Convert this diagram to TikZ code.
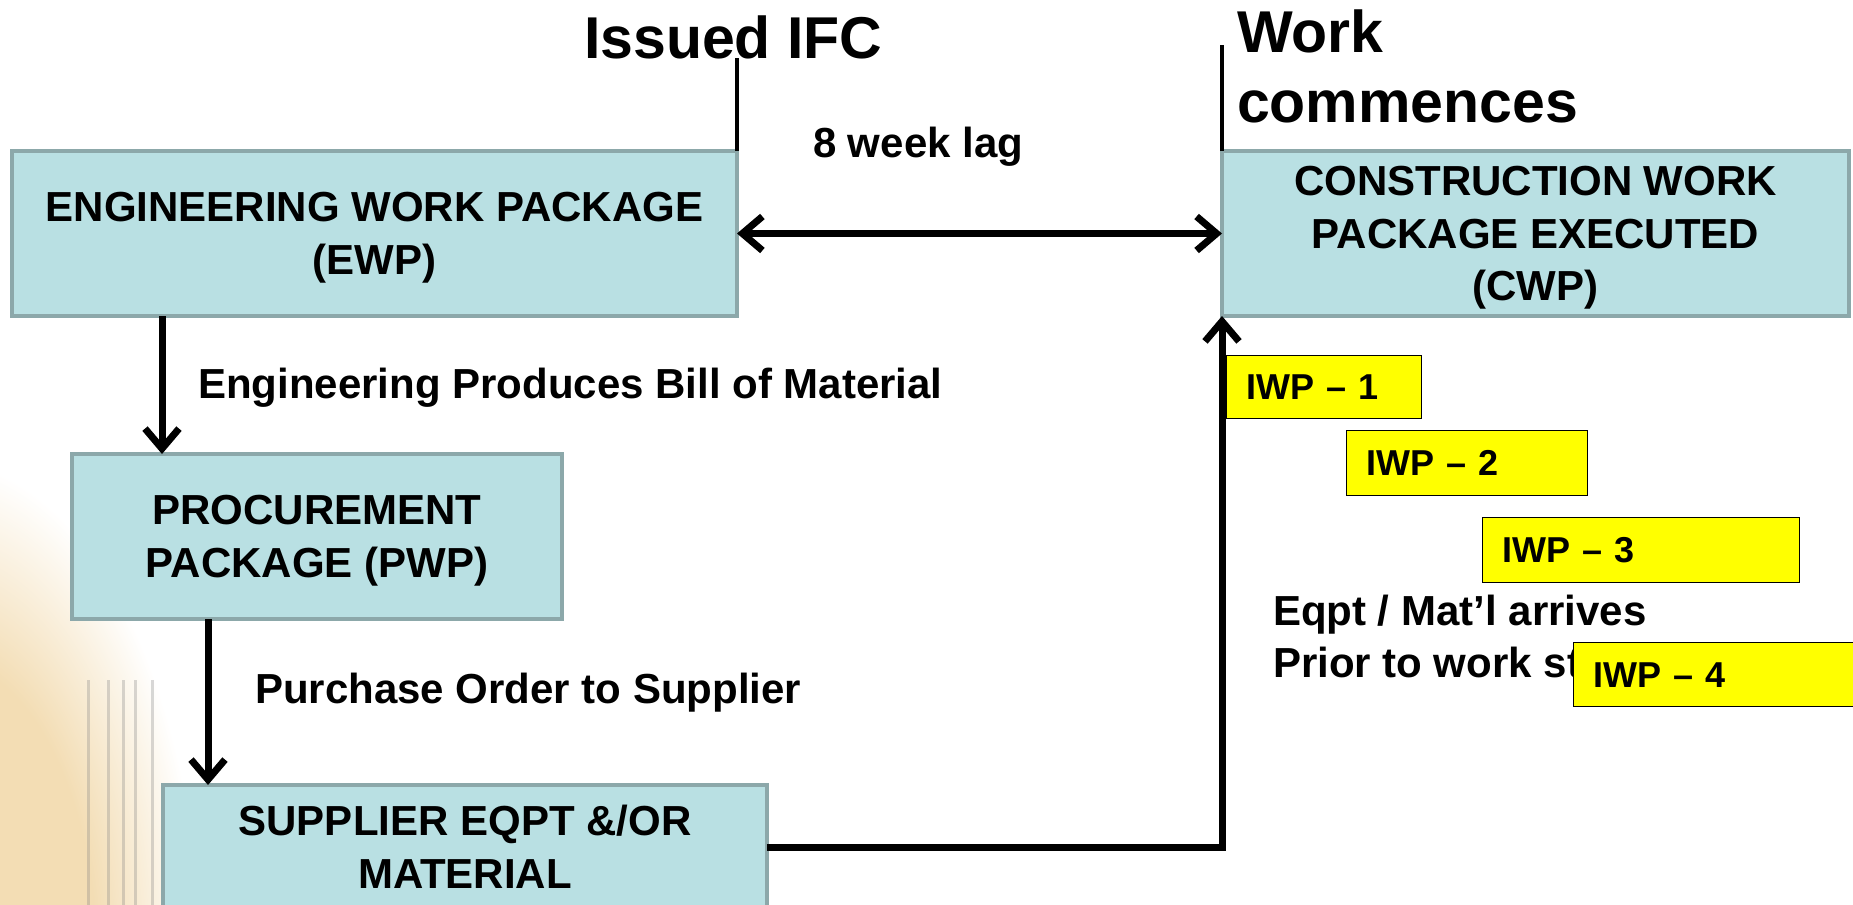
\documentclass[tikz,border=0pt]{standalone}
\usepackage{fontspec}
\setmainfont{Liberation Sans}
\usetikzlibrary{arrows.meta}
\definecolor{boxfill}{RGB}{185,224,227}
\definecolor{boxline}{RGB}{140,168,170}
\definecolor{bgbeige}{RGB}{243,221,180}
\definecolor{iwpyellow}{RGB}{255,255,0}
\pgfdeclareradialshading{bgfade}{\pgfpoint{0bp}{0bp}}{color(0bp)=(bgbeige); color(15bp)=(bgbeige); color(25bp)=(white); color(50bp)=(white)}
\newcommand\NoDp[1]{\raisebox{0pt}[\height][0pt]{#1}}
\begin{document}
\begin{tikzpicture}[x=1pt,y=-1pt,
  pkg/.style={draw=boxline, line width=4pt, fill=boxfill, inner sep=0pt, outer sep=0pt, align=center, font=\fontsize{42}{52.5}\selectfont\bfseries},
  iwp/.style={draw=black, line width=1.5pt, fill=iwpyellow, anchor=north west, inner xsep=20pt, inner ysep=0pt, outer sep=0pt, align=left, font=\fontsize{36}{43}\selectfont\bfseries},
  lbl/.style={inner sep=0pt, outer sep=0pt, anchor=base west, font=\fontsize{42}{52}\selectfont\bfseries},
  big/.style={inner sep=0pt, outer sep=0pt, anchor=base west, font=\fontsize{59}{70}\selectfont\bfseries},
  flow/.style={line width=7pt, -{Straight Barb[length=20pt,width=34pt]}},
  flow2/.style={line width=7pt, {Straight Barb[length=20pt,width=34pt]}-{Straight Barb[length=20pt,width=34pt]}},
  tickln/.style={line width=4pt}
]
\useasboundingbox (0,0) rectangle (1853,905);
\clip (0,0) rectangle (1853,905);
\fill[white] (0,0) rectangle (1853,905);
% slide background decoration
\shade[shading=bgfade] (-60,960) ellipse [x radius=260pt, y radius=500pt];
\foreach \sx in {88,108,123,135,152}
  \draw[gray, opacity=0.3, line width=3pt] (\sx,680) -- (\sx,905);

% packages
\node[pkg, minimum width=725pt, minimum height=165pt] (EWP) at (374.5,233.5) {ENGINEERING WORK PACKAGE\\\NoDp{(EWP)}};
\node[pkg, minimum width=627pt, minimum height=165pt] (CWP) at (1535.5,233.5) {CONSTRUCTION WORK\\PACKAGE EXECUTED\\\NoDp{(CWP)}};
\node[pkg, minimum width=490pt, minimum height=165pt] (PWP) at (317,536.5) {PROCUREMENT\\\NoDp{PACKAGE (PWP)}};
\node[pkg, minimum width=604pt, minimum height=124pt] (SUP) at (465,847) {SUPPLIER EQPT \&/OR\\MATERIAL};

% labels
\node[big] (IFC) at (584,58) {Issued IFC};
\node[big, anchor=north west, align=left] (WORK) at (1237,10) {Work\\commences};
\node[lbl] (LAG) at (813,157) {8 week lag};
\node[lbl] (BOM) at (198,398) {Engineering Produces Bill of Material};
\node[lbl] (PO) at (255,703) {Purchase Order to Supplier};
\node[lbl, anchor=north west, align=left] (EQ) at (1273,595) {Eqpt / Mat’l arrives\\Prior to work starts};

% IWP boxes
\node[iwp, text width=155pt, minimum height=63pt] (IWP1) at (1226.7,355.7) {IWP – 1};
\node[iwp, text width=201pt, minimum height=65pt] (IWP2) at (1346.7,430.7) {IWP – 2};
\node[iwp, text width=277pt, minimum height=65pt] (IWP3) at (1482.7,517.7) {IWP – 3};
\node[iwp, text width=257pt, minimum height=64pt] (IWP4) at (1573.7,642.7) {IWP – 4};

% markers
\coordinate (wtop) at (1222,45);
\draw[tickln] (EWP.north east) -- (EWP.north east |- IFC.base);
\draw[tickln] (CWP.north west) -- (CWP.north west |- wtop);

% connectors
\draw[flow2] (EWP.east) -- (CWP.west);
\draw[flow] (162,0 |- EWP.south) -- (162,0 |- PWP.north);
\draw[flow] (208,0 |- PWP.south) -- (208,0 |- SUP.north);
\draw[flow] (SUP.east) -| (CWP.south west);
\end{tikzpicture}
\end{document}
